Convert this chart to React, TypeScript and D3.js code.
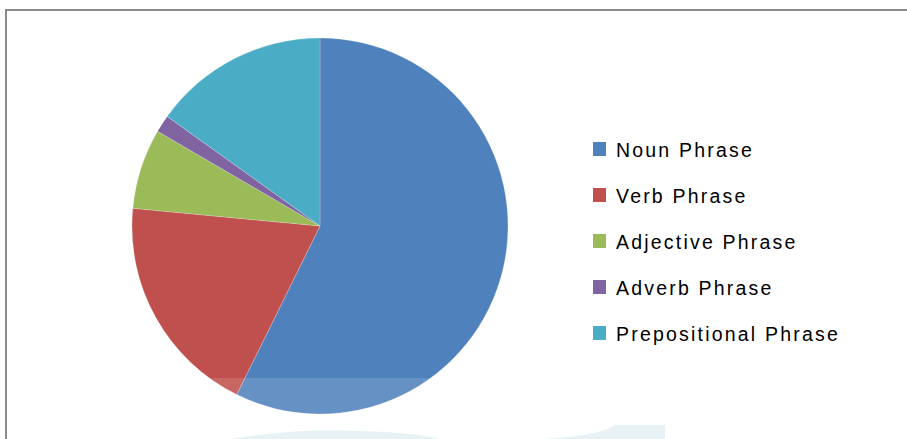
import React, { useEffect, useRef } from "react";
import * as d3 from "d3";

const categories = [
  "Noun Phrase",
  "Verb Phrase",
  "Adjective Phrase",
  "Adverb Phrase",
  "Prepositional Phrase"
];
const shares = [57.3, 19.2, 6.9, 1.5, 15.1];
const colors = ["#4F81BD", "#C0504D", "#9BBB59", "#8064A2", "#4BACC6"];

const W = 907,
  H = 439;

export default function App() {
  const ref = useRef<SVGSVGElement>(null);

  useEffect(() => {
    const svg = d3.select(ref.current);
    svg.selectAll("*").remove();

    // chart frame (runs off the right and bottom)
    svg
      .append("rect")
      .attr("x", 6)
      .attr("y", 10)
      .attr("width", W + 20)
      .attr("height", H + 20)
      .attr("fill", "#fff")
      .attr("stroke", "#8a8a8a")
      .attr("stroke-width", 2);

    const data = categories.map((c, i) => ({ name: c, value: shares[i], color: colors[i] }));

    const pie = d3
      .pie<any>()
      .sort(null)
      .value(d => d.value);

    const arc = d3
      .arc<any>()
      .innerRadius(0)
      .outerRadius(188);

    const _g = svg.append("g").attr("transform", "translate(320,226)");
    _g.selectAll("path")
      .data(pie(data))
      .enter()
      .append("path")
      .attr("d", arc)
      .attr("fill", d => d.data.color)
      .attr("stroke", "#fff")
      .attr("stroke-width", 0.4)
      .attr("stroke-opacity", 0.5);

    // legend
    const _legend = svg
      .selectAll(".legend")
      .data(data)
      .enter()
      .append("g")
      .attr("class", "legend")
      .attr("transform", (d, i) => "translate(593," + (142 + i * 46) + ")");

    _legend
      .append("rect")
      .attr("width", 13)
      .attr("height", 14)
      .attr("fill", d => d.color);

    _legend
      .append("text")
      .attr("x", 23)
      .attr("y", 15)
      .style("font", "19.5px 'Liberation Sans', sans-serif")
      .style("letter-spacing", "2.2px")
      .attr("fill", "#000")
      .text(d => d.name);

    // faint watermark across the bottom
    svg
      .append("rect")
      .attr("x", 140)
      .attr("y", 378)
      .attr("width", 570)
      .attr("height", 70)
      .attr("fill", "#fff")
      .attr("opacity", 0.13);
    svg
      .append("path")
      .attr("d", "M230,439 Q300,428 360,431 Q420,433 440,439 Z")
      .attr("fill", "#e8f2f4");
    svg
      .append("path")
      .attr("d", "M540,439 Q600,436 615,425 L665,425 L665,439 Z")
      .attr("fill", "#e8f2f4");
  }, []);

  return (
    <svg
      ref={ref}
      width={W}
      height={H}
      style={{ position: "absolute", left: 0, top: 0, background: "#fff" }}
    ></svg>
  );
}
